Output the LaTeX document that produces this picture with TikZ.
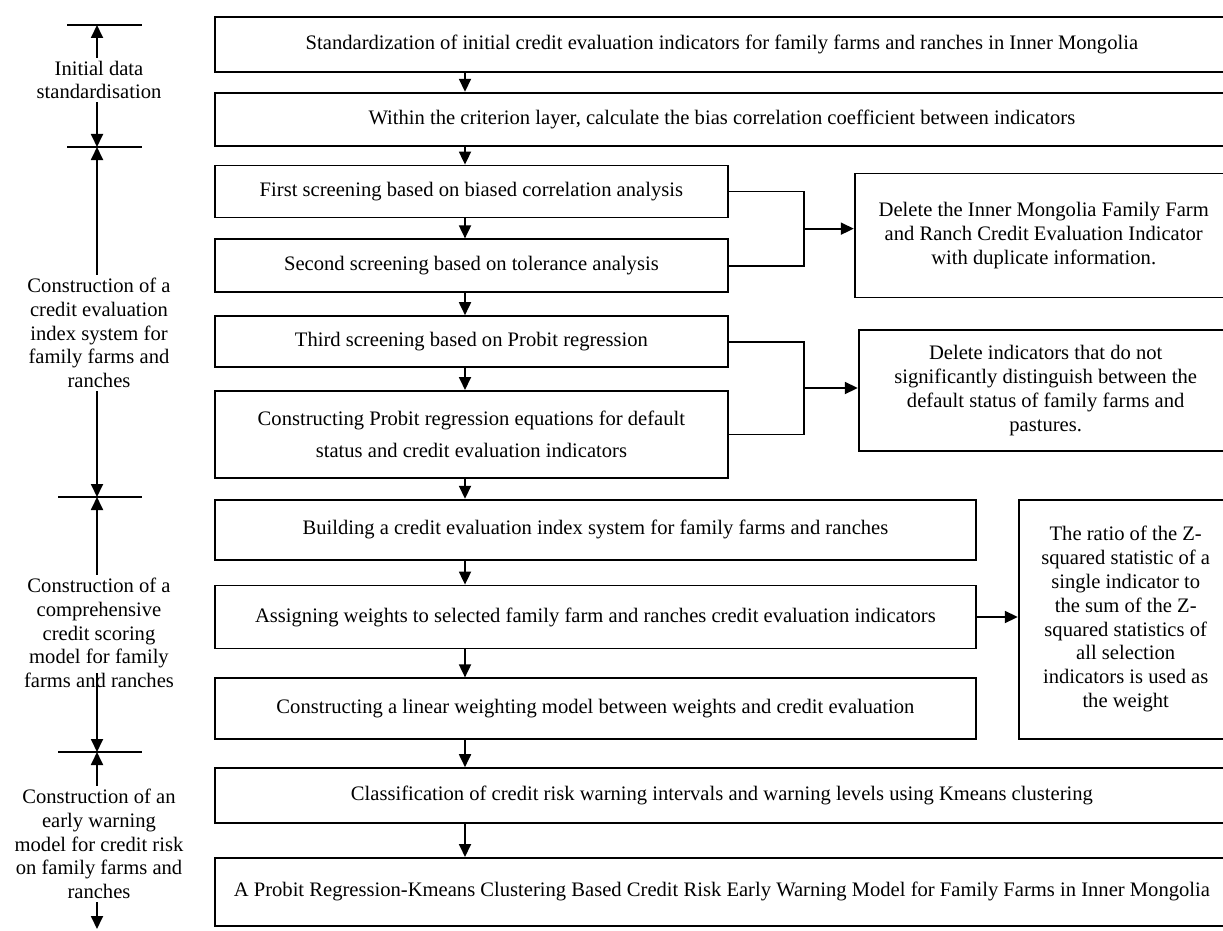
\documentclass[tikz,border=0pt]{standalone}
\usepackage{fontspec}
\setmainfont{Liberation Serif}
\usetikzlibrary{arrows.meta, positioning, calc}

\newcommand\figfont{\fontsize{20.6}{23.8}\selectfont}

\begin{document}
\begin{tikzpicture}[
    x=1pt, y=-1pt,
    box/.style = {draw, line width=1.8pt, align=center, font=\figfont, inner sep=2pt},
    widebox/.style = {box, minimum width=1014pt},
    midbox/.style = {box, minimum width=513pt},
    longbox/.style = {box, minimum width=761pt},
    sidebox/.style = {box},
    arr/.style = {-{Triangle[length=13pt,width=12pt]}, line width=1.8pt},
    link/.style = {line width=1.8pt},
    tick/.style = {line width=1.8pt},
    stage/.style = {align=center, font=\figfont, inner sep=3pt},
  ]
    \useasboundingbox (0,0) rectangle (1223,931);

    % Main column
    \node[widebox, minimum height=55pt, anchor=north west] (std) at (214,16)
      {Standardization of initial credit evaluation indicators for family farms and ranches in Inner Mongolia};
    \node[widebox, minimum height=53pt, below=19pt of std.south west, anchor=north west] (within)
      {Within the criterion layer, calculate the bias correlation coefficient between indicators};
    \node[midbox, minimum height=52pt, below=18pt of within.south west, anchor=north west] (first)
      {First screening based on biased correlation analysis};
    \node[midbox, minimum height=53pt, below=20pt of first.south west, anchor=north west] (second)
      {Second screening based on tolerance analysis};
    \node[midbox, minimum height=51pt, below=22pt of second.south west, anchor=north west] (third)
      {Third screening based on Probit regression};
    \node[midbox, minimum height=87pt, below=22pt of third.south west, anchor=north west] (probit)
      {Constructing Probit regression equations for default\\[8pt]status and credit evaluation indicators};
    \node[longbox, minimum height=60pt, below=20pt of probit.south west, anchor=north west] (build)
      {Building a credit evaluation index system for family farms and ranches};
    \node[longbox, minimum height=63pt, below=24pt of build.south west, anchor=north west] (assign)
      {Assigning weights to selected family farm and ranches credit evaluation indicators};
    \node[longbox, minimum height=61pt, below=28pt of assign.south west, anchor=north west] (linear)
      {Constructing a linear weighting model between weights and credit evaluation};
    \node[widebox, minimum height=55pt, below=27pt of linear.south west, anchor=north west] (classify)
      {Classification of credit risk warning intervals and warning levels using Kmeans clustering};
    \node[widebox, minimum height=68pt, below=33pt of classify.south west, anchor=north west] (final)
      {A Probit Regression-Kmeans Clustering Based Credit Risk Early Warning Model for Family Farms in Inner Mongolia};

    % Side boxes
    \node[sidebox, minimum width=378pt, minimum height=124pt, right=125pt of first.north east, anchor=north west, yshift=-8pt] (del1)
      {Delete the Inner Mongolia Family Farm\\and Ranch Credit Evaluation Indicator\\with duplicate information.};
    \node[sidebox, minimum width=374pt, minimum height=121pt, right=129pt of third.north east, anchor=north west, yshift=-14pt] (del2)
      {Delete indicators that do not\\significantly distinguish between the\\default status of family farms and\\pastures.};
    \node[sidebox, minimum width=214pt, minimum height=239pt, right=41pt of build.north east, anchor=north west] (zbox)
      {The ratio of the Z-\\squared statistic of a\\single indicator to\\the sum of the Z-\\squared statistics of\\all selection\\indicators is used as\\the weight};

    % Stage labels
    \node[stage] (s1) at (99,80)  {Initial data\\standardisation};
    \node[stage] (s2) at (99,333) {Construction of a\\credit evaluation\\index system for\\family farms and\\ranches};
    \node[stage] (s3) at (99,633) {Construction of a\\comprehensive\\credit scoring\\model for family\\farms and ranches};
    \node[stage] (s4) at (99,844) {Construction of an\\early warning\\model for credit risk\\on family farms and\\ranches};

    \coordinate (t1) at (97,25);
    \coordinate (t2) at (97,147);
    \coordinate (t3) at (97,497);
    \coordinate (t4) at (97,752);
    \coordinate (tend) at (97,929);
    \coordinate (colx) at (465,0);
    \coordinate (brk) at (804,0);

    % Ticks
    \draw[tick] ([xshift=-30pt]t1) -- ([xshift=45pt]t1);
    \draw[tick] ([xshift=-30pt]t2) -- ([xshift=45pt]t2);
    \draw[tick] ([xshift=-39pt]t3) -- ([xshift=45pt]t3);
    \draw[tick] ([xshift=-39pt]t4) -- ([xshift=45pt]t4);

    % Stage arrows
    \draw[arr] (s1.north -| t1) -- (t1);
    \draw[arr] (s1.south -| t1) -- (t2);
    \draw[arr] (s2.north -| t1) -- (t2);
    \draw[arr] (s2.south -| t1) -- (t3);
    \draw[arr] (s3.north -| t1) -- (t3);
    \draw[arr] ([yshift=18pt]s3.south -| t1) -- (t4);
    \draw[arr] (s4.north -| t1) -- (t4);
    \draw[arr] (s4.south -| t1) -- (tend);

    % Main column arrows
    \draw[arr] (std.south -| colx)      -- (within.north -| colx);
    \draw[arr] (within.south -| colx)   -- (first.north -| colx);
    \draw[arr] (first.south -| colx)    -- (second.north -| colx);
    \draw[arr] (second.south -| colx)   -- (third.north -| colx);
    \draw[arr] (third.south -| colx)    -- (probit.north -| colx);
    \draw[arr] (probit.south -| colx)   -- (build.north -| colx);
    \draw[arr] (build.south -| colx)    -- (assign.north -| colx);
    \draw[arr] (assign.south -| colx)   -- (linear.north -| colx);
    \draw[arr] (linear.south -| colx)   -- (classify.north -| colx);
    \draw[arr] (classify.south -| colx) -- (final.north -| colx);

    % Brackets to side boxes
    \draw[link] (first.east) -- (first.east -| brk) -- (second.east -| brk) -- (second.east);
    \draw[arr] ($(first.east -| brk)!0.5!(second.east -| brk)$) -- ($(first.east -| del1.west)!0.5!(second.east -| del1.west)$);
    \draw[link] (third.east) -- (third.east -| brk) -- (probit.east -| brk) -- (probit.east);
    \draw[arr] ($(third.east -| brk)!0.5!(probit.east -| brk)$) -- ($(third.east -| del2.west)!0.5!(probit.east -| del2.west)$);
    \draw[arr] (assign.east) -- (assign.east -| zbox.west);
  \end{tikzpicture}
\end{document}
